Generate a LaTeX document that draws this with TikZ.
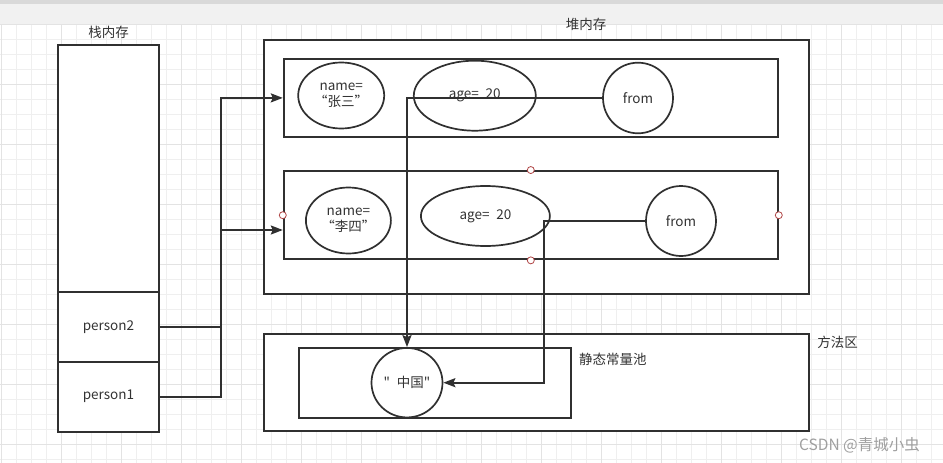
\documentclass[tikz,border=0pt]{standalone}
\usepackage{fontspec}
\setmainfont{Noto Sans CJK SC}[Ligatures=TeXOff]
\usetikzlibrary{arrows.meta,shapes.geometric}
\definecolor{ink}{HTML}{333333}
\definecolor{line}{HTML}{303030}
\definecolor{gridminor}{HTML}{EFEFEF}
\definecolor{gridmajor}{HTML}{E3E3E3}
\definecolor{bar}{HTML}{F1F1F1}
\definecolor{bartop}{HTML}{D9D9D9}
\definecolor{handlecol}{HTML}{B04545}

\begin{document}
\begin{tikzpicture}[
  x=1pt, y=-1pt,
  text=ink, font=\fontsize{13.5}{16}\selectfont,
  box/.style={draw=line, line width=2pt, fill=white, inner sep=0pt},
  oval/.style={ellipse, draw=line, line width=1.7pt, inner sep=0pt, align=center},
  arrow/.style={-{Stealth[length=12pt,width=9pt,inset=2pt]}, draw=line, line width=2pt},
  grip/.style={circle, draw=handlecol, fill=white, line width=.8pt,
    minimum size=7pt, inner sep=0pt},
  label/.style={inner sep=0pt}
]
  \useasboundingbox (0,0) rectangle (943,463);
  % canvas
  \fill[white] (0,0) rectangle (943,463);
  \fill[bar] (0,0) rectangle (943,24);
  \fill[bartop] (0,0) rectangle (943,4);
  \foreach \gx in {1.7,16.7,...,943} \draw[gridminor, line width=1pt] (\gx,24) -- (\gx,463);
  \foreach \gy in {39.3,54.3,...,463} \draw[gridminor, line width=1pt] (0,\gy) -- (943,\gy);
  \foreach \gx in {1.7,61.7,...,943} \draw[gridmajor, line width=1pt] (\gx,24) -- (\gx,463);
  \foreach \gy in {24.3,84.3,...,463} \draw[gridmajor, line width=1pt] (0,\gy) -- (943,\gy);

  % stack
  \node[label] (stacktitle) at (108.5,32.3) {栈内存};
  \node[box, minimum width=101, minimum height=387] (stack) at (108.5,238) {};
  \node[box, minimum width=101, minimum height=70] (person2) at (108.5,327) {person2};
  \node[box, minimum width=101, minimum height=70] (person1) at (108.5,396.7) {person1};

  % heap
  \node[label] (heaptitle) at (586,24.3) {堆内存};
  \node[box, minimum width=545, minimum height=254] (heap) at (536.1,167.2) {};
  \node[box, minimum width=494, minimum height=77.7] (obj1) at (530.8,97.9) {};
  \node[oval, minimum width=86, minimum height=66] (name1) at (341.2,95.5) {name=\\“张三”};
  \node[oval, minimum width=122, minimum height=70] (age1) at (474.8,95.7) {age=\enspace{}20};
  \node[oval, minimum width=70, minimum height=70.6] (from1) at (638,98) {from};
  \node[box, minimum width=494, minimum height=88.3] (obj2) at (530.8,215.2) {};
  \node[oval, minimum width=85, minimum height=66] (name2) at (348.4,220.5) {name=\\“李四”};
  \node[oval, minimum width=129, minimum height=60] (age2) at (485.4,216) {age=\enspace{}20};
  \node[oval, minimum width=70, minimum height=70] (from2) at (681,221) {from};

  % method area
  \node[box, minimum width=545, minimum height=97.5] (method) at (536.5,382.7) {};
  \node[label] (methodtitle) at (837.5,342.7) {方法区};
  \node[box, minimum width=272, minimum height=70] (pool) at (435.2,382.7) {};
  \node[label] (pooltitle) at (612.8,359.3) {静态常量池};
  \node[oval, minimum width=71, minimum height=69.5] (china) at (407,382.7) {"\enspace{}中国"};

  % references
  \coordinate (trunk) at (221,0);
  \coordinate (bend) at (544.3,0);
  \draw[arrow] (person2.east) -- (person2.east -| trunk) |- (obj1.west);
  \draw[arrow] (person1.east) -- (person1.east -| trunk) |- ([yshift=-14.8pt]obj2.west);
  \draw[arrow] (from1.west) -| (china.north);
  \draw[arrow] (from2.west) -| (bend |- china.east) -- (china.east);

  \node[grip] (gn) at (obj2.north) {};
  \node[grip] (gs) at (obj2.south) {};
  \node[grip] (gw) at (obj2.west) {};
  \node[grip] (ge) at (obj2.east) {};

  \node[text=gray!75, font=\fontsize{15.5}{18}\selectfont] (mark) at (859.5,445) {CSDN @青城小虫};
\end{tikzpicture}
\end{document}
